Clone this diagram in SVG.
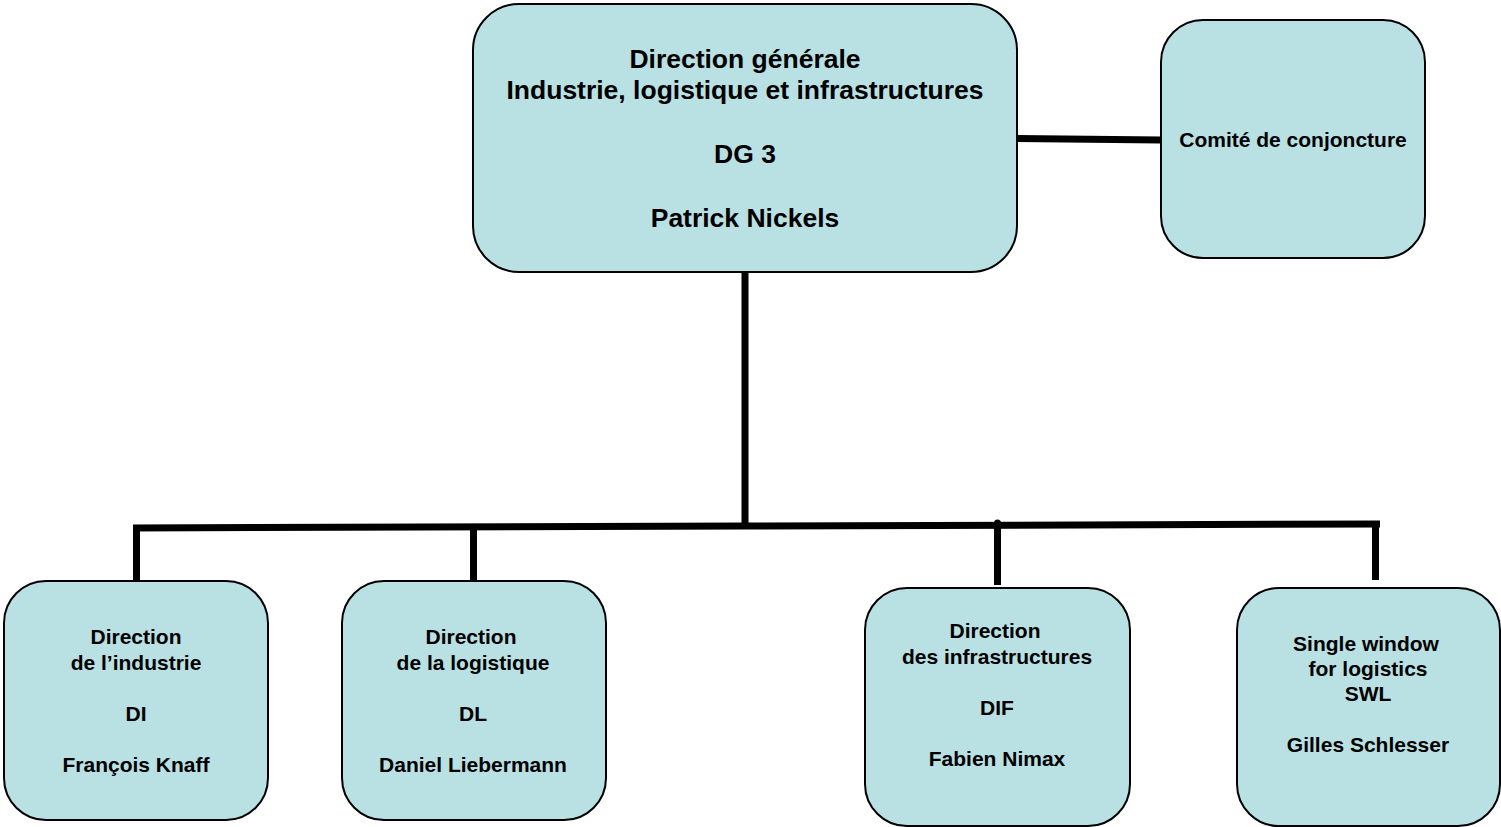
<svg xmlns="http://www.w3.org/2000/svg" width="1501" height="827" viewBox="0 0 1501 827">
  <style>
    .box { fill: #b9e0e3; stroke: #000; stroke-width: 2; }
    .link { fill: none; stroke: #000; stroke-width: 7; stroke-linecap: butt; }
    text { font-family: "Liberation Sans", Arial, sans-serif; font-weight: bold; fill: #000; text-anchor: middle; }
    .t1 { font-size: 26.5px; }
    .t2 { font-size: 21px; }
  </style>
  <rect width="1501" height="827" fill="#fff"/>

  <g id="connectors">
    <path class="link" d="M1017 138.5 L1161 140"/>
    <path class="link" d="M745 272 L745 527"/>
    <path class="link" d="M133 528 L745 526 L1380 524"/>
    <path class="link" d="M136.5 528 L136.5 581"/>
    <path class="link" d="M473.5 527 L473.5 581"/>
    <path class="link" d="M997.5 525 L997.5 585"/>
    <path class="link" d="M1375.5 524 L1375.5 580"/>
    <circle cx="997.5" cy="523" r="3.5" fill="#000"/>
  </g>

  <g id="dg3">
    <rect class="box" x="473" y="4" width="544" height="268" rx="46" ry="46"/>
    <text class="t1" x="745" y="68">Direction générale</text>
    <text class="t1" x="745" y="99">Industrie, logistique et infrastructures</text>
    <text class="t1" x="745" y="163">DG 3</text>
    <text class="t1" x="745" y="227">Patrick Nickels</text>
  </g>

  <g id="comite">
    <rect class="box" x="1161" y="20" width="264" height="238" rx="42" ry="42"/>
    <text class="t2" x="1293" y="147">Comité de conjoncture</text>
  </g>

  <g id="di">
    <rect class="box" x="4" y="581" width="264" height="239" rx="42" ry="42"/>
    <text class="t2" x="136" y="644">Direction</text>
    <text class="t2" x="136" y="670">de l’industrie</text>
    <text class="t2" x="136" y="721">DI</text>
    <text class="t2" x="136" y="772">François Knaff</text>
  </g>

  <g id="dl">
    <rect class="box" x="342" y="581" width="264" height="239" rx="42" ry="42"/>
    <text class="t2" x="471" y="644">Direction</text>
    <text class="t2" x="473" y="670">de la logistique</text>
    <text class="t2" x="473" y="721">DL</text>
    <text class="t2" x="473" y="772">Daniel Liebermann</text>
  </g>

  <g id="dif">
    <rect class="box" x="865" y="588" width="265" height="238" rx="42" ry="42"/>
    <text class="t2" x="995" y="638">Direction</text>
    <text class="t2" x="997" y="664">des infrastructures</text>
    <text class="t2" x="997" y="715">DIF</text>
    <text class="t2" x="997" y="766">Fabien Nimax</text>
  </g>

  <g id="swl">
    <rect class="box" x="1237" y="588" width="263" height="238" rx="42" ry="42"/>
    <text class="t2" x="1366" y="651">Single window</text>
    <text class="t2" x="1368" y="676">for logistics</text>
    <text class="t2" x="1368" y="701">SWL</text>
    <text class="t2" x="1368" y="752">Gilles Schlesser</text>
  </g>
</svg>
